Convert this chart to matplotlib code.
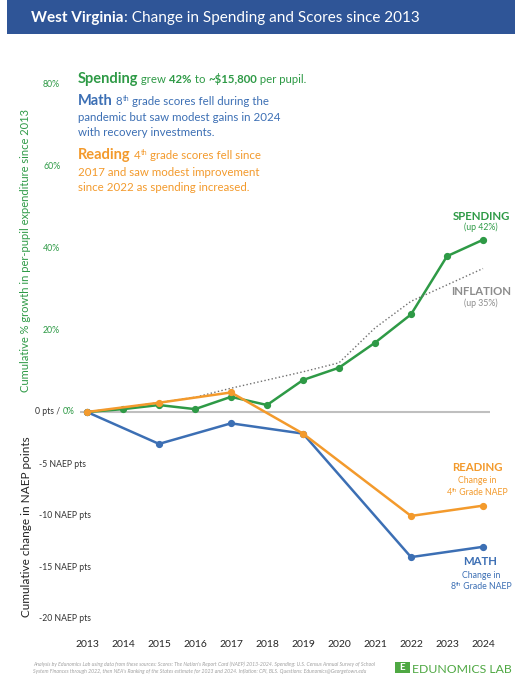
import matplotlib
matplotlib.use('Agg')
import matplotlib.pyplot as plt
from matplotlib.patches import Rectangle

plt.rcParams['font.family'] = ['Lato', 'DejaVu Sans']

# data
years = [2013, 2014, 2015, 2016, 2017, 2018, 2019, 2020, 2021, 2022, 2023, 2024]
spending = [0, 0.7, 1.7, 0.7, 3.7, 1.7, 7.8, 10.8, 16.9, 23.8, 38.0, 42.0]
inflation = [0, 1.1, 2.3, 3.6, 5.8, 7.8, 9.8, 12.0, 20.5, 27.0, 31.0, 35.0]
naep_years = [2013, 2015, 2017, 2019, 2022, 2024]
math8 = [0, -3.1, -1.1, -2.1, -14.1, -13.1]
reading4 = [0, 0.9, 1.9, -2.1, -10.1, -9.1]

pct_ticks = [20, 40, 60, 80]
pct_labels = ['20%', '40%', '60%', '80%']
pts_ticks = [-5, -10, -15, -20]
pts_labels = ['-5 NAEP pts', '-10 NAEP pts', '-15 NAEP pts', '-20 NAEP pts']

GREEN = '#2E9A46'
BLUE = '#3C6FB4'
ORANGE = '#F39A2C'
GRAY = '#8C8C8C'

W, H = 525, 680
fig = plt.figure(figsize=(W / 100, H / 100), dpi=100)
renderer = fig.canvas.get_renderer()


def fx(x):
    return x / W


def fy(y):
    return 1 - y / H


def text_width(s, size, weight):
    # measure with bars on both sides so spaces count
    t1 = fig.text(0, 0, '|' + s + '|', fontsize=size, fontweight=weight)
    t2 = fig.text(0, 0, '||', fontsize=size, fontweight=weight)
    w = t1.get_window_extent(renderer).width - t2.get_window_extent(renderer).width
    t1.remove()
    t2.remove()
    return w


def rich(x, y, parts, ha='left'):
    # parts: (text, size, weight, color, rise in px)
    widths = [text_width(p[0], p[1], p[2]) for p in parts]
    start = x - sum(widths) / 2 if ha == 'center' else x
    for (s, size, weight, color, rise), w in zip(parts, widths):
        fig.text(fx(start), fy(y - rise), s, fontsize=size, fontweight=weight,
                 color=color, va='baseline', ha='left')
        start += w


# header banner
fig.patches.append(Rectangle((fx(7), fy(34)), fx(508), 34 / H, transform=fig.transFigure,
                             facecolor='#2F5597', edgecolor='none'))
rich(31, 22, [('West Virginia', 11, 'bold', 'white', 0),
              (': Change in Spending and Scores since 2013', 11, 'normal', 'white', 0)])

# axes
top_px, bot_px, zero_px = 80, 625, 412
px_per_pct = 4.1
k = 2.51  # percent per NAEP point on the shared scale
ax = fig.add_axes([fx(80), fy(bot_px), fx(410), (bot_px - top_px) / H])
ax.set_xlim(2013 - 7 / 36, 2024 + 7 / 36)
ax.set_ylim(-(bot_px - zero_px) / px_per_pct, (zero_px - top_px) / px_per_pct)
ax2 = ax.twinx()
ax2.set_ylim(ax.get_ylim()[0] / k, ax.get_ylim()[1] / k)

for a in (ax, ax2):
    for sp in a.spines.values():
        sp.set_visible(False)

ax.axhline(0, color='#BFBFBF', lw=1.5, zorder=1)
ax.plot(years, spending, color=GREEN, lw=1.8, marker='o', ms=4.2, zorder=3)
ax.plot(years, inflation, color='#707070', lw=1.0, ls=':', zorder=4)
ax2.plot(naep_years, math8, color=BLUE, lw=1.8, marker='o', ms=4.2, zorder=3)
ax2.plot(naep_years, reading4, color=ORANGE, lw=1.8, marker='o', ms=4.2, zorder=4)

ax.set_xticks(years)
ax.set_xticklabels([str(y) for y in years])
ax.tick_params(axis='x', length=0, pad=11, labelsize=7.5, labelcolor='#262626')

ax.set_yticks(pct_ticks)
ax.set_yticklabels(pct_labels)
ax.tick_params(axis='y', length=0, pad=26.6, labelsize=6.3, labelcolor=GREEN)
for lbl in ax.get_yticklabels():
    lbl.set_horizontalalignment('left')

ax2.yaxis.tick_left()
ax2.set_yticks(pts_ticks)
ax2.set_yticklabels(pts_labels)
ax2.tick_params(axis='y', length=0, pad=29.5, labelsize=6.2, labelcolor='#333333')
for lbl in ax2.get_yticklabels():
    lbl.set_horizontalalignment('left')

fig.text(fx(60), fy(412), '0 pts /', fontsize=6.2, color='#333333', ha='right', va='center')
fig.text(fx(63), fy(412), '0%', fontsize=6.2, color=GREEN, ha='left', va='center')

# axis titles
fig.text(fx(26), fy(251), 'Cumulative % growth in per-pupil expenditure since 2013',
         rotation=90, fontsize=8, color=GREEN, ha='center', va='center')
fig.text(fx(27), fy(527), 'Cumulative change in NAEP points',
         rotation=90, fontsize=8.5, color='#222222', ha='center', va='center')

# story text
rich(78, 83, [('Spending', 10.5, 'bold', GREEN, 0), (' grew ', 8.2, 'normal', GREEN, 0),
              ('42%', 8.2, 'bold', GREEN, 0), (' to ', 8.2, 'normal', GREEN, 0),
              ('~$15,800', 8.2, 'bold', GREEN, 0), (' per pupil.', 8.2, 'normal', GREEN, 0)])
rich(78, 105, [('Math', 10.5, 'bold', BLUE, 0), (' 8', 8.3, 'normal', BLUE, 0),
               ('th', 5, 'normal', BLUE, 4), (' grade scores fell during the', 8.3, 'normal', BLUE, 0)])
rich(78, 120.7, [('pandemic but saw modest gains in 2024', 8.3, 'normal', BLUE, 0)])
rich(78, 136, [('with recovery investments.', 8.3, 'normal', BLUE, 0)])
rich(78, 159.3, [('Reading', 10.5, 'bold', ORANGE, 0), (' 4', 8.3, 'normal', ORANGE, 0),
                 ('th', 5, 'normal', ORANGE, 4), (' grade scores fell since', 8.3, 'normal', ORANGE, 0)])
rich(78, 175.7, [('2017 and saw modest improvement', 8.3, 'normal', ORANGE, 0)])
rich(78, 191, [('since 2022 as spending increased.', 8.3, 'normal', ORANGE, 0)])

# end labels
rich(481, 219.5, [('SPENDING', 8.2, 'bold', GREEN, 0)], ha='center')
rich(481, 229.5, [('(up 42%)', 6.3, 'normal', GREEN, 0)], ha='center')
rich(481, 295, [('INFLATION', 8.2, 'bold', GRAY, 0)], ha='center')
rich(481, 306, [('(up 35%)', 6.3, 'normal', GRAY, 0)], ha='center')
rich(477, 470.7, [('READING', 8.2, 'bold', ORANGE, 0)], ha='center')
rich(477, 483.3, [('Change in', 6.3, 'normal', ORANGE, 0)], ha='center')
rich(477, 495, [('4', 6.3, 'normal', ORANGE, 0), ('th', 4.2, 'normal', ORANGE, 3),
                (' Grade NAEP', 6.3, 'normal', ORANGE, 0)], ha='center')
rich(480, 565, [('MATH', 8.2, 'bold', BLUE, 0)], ha='center')
rich(481, 578.3, [('Change in', 6.3, 'normal', BLUE, 0)], ha='center')
rich(481, 589.3, [('8', 6.3, 'normal', BLUE, 0), ('th', 4.2, 'normal', BLUE, 3),
                  (' Grade NAEP', 6.3, 'normal', BLUE, 0)], ha='center')

# footer
fig.text(fx(33), fy(666),
         "Analysis by Edunomics Lab using data from these sources: Scores: The Nation's Report Card (NAEP) 2013-2024. "
         "Spending: U.S. Census Annual Survey of School",
         fontsize=3.7, style='italic', color='#A0A0A0', va='baseline')
fig.text(fx(33), fy(673),
         "System Finances through 2022, then NEA's Ranking of the States estimate for 2023 and 2024. "
         "Inflation: CPI, BLS. Questions: Edunomics@Georgetown.edu",
         fontsize=3.7, style='italic', color='#A0A0A0', va='baseline')

fig.patches.append(Rectangle((fx(395), fy(673)), 15 / W, 11 / H, transform=fig.transFigure,
                             facecolor='#4FA843', edgecolor='none'))
fig.text(fx(402.5), fy(667.5), 'E', fontsize=7, fontweight='bold', color='white', ha='center', va='center')
fig.text(fx(412), fy(673), 'EDUNOMICS LAB', fontsize=8.8, fontweight='normal', color='#4FA843',
         ha='left', va='baseline')

fig.savefig('out.png', dpi=100)
